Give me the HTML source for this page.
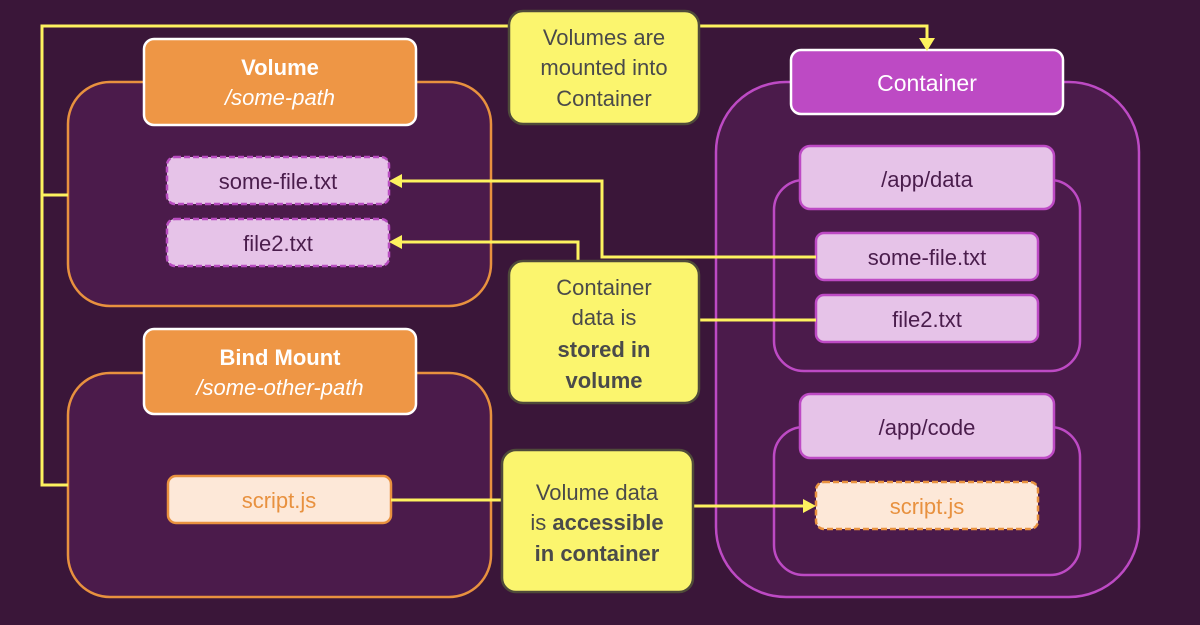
<!DOCTYPE html>
<html><head><meta charset="utf-8"><style>
html,body{margin:0;padding:0;background:#3a1639;}
svg text{font-family:"Liberation Sans",sans-serif;}
</style></head><body>
<svg width="1200" height="620" viewBox="0 0 1200 620" xmlns="http://www.w3.org/2000/svg">
<rect width="1200" height="620" fill="#3a1639"/>
<!-- Volume -->
<rect x="68" y="82" width="423" height="224" rx="42" fill="#4b1b4b" stroke="#e8913f" stroke-width="2.5"/>
<rect x="144" y="39" width="272" height="86" rx="10" fill="#ee9645" stroke="#fff" stroke-width="2.5"/>
<text x="280" y="75" fill="#fff" font-size="22" font-weight="bold" text-anchor="middle">Volume</text>
<text x="280" y="105" fill="#fff" font-size="22" font-style="italic" text-anchor="middle">/some-path</text>
<rect x="167" y="157" width="222" height="47" rx="8" fill="#e6c3e8" stroke="#b84cc0" stroke-width="2.5" stroke-dasharray="6,3"/>
<text x="278" y="189" fill="#4a1d4c" font-size="22" text-anchor="middle">some-file.txt</text>
<rect x="167" y="219" width="222" height="47" rx="8" fill="#e6c3e8" stroke="#b84cc0" stroke-width="2.5" stroke-dasharray="6,3"/>
<text x="278" y="251" fill="#4a1d4c" font-size="22" text-anchor="middle">file2.txt</text>
<!-- Bind mount -->
<rect x="68" y="373" width="423" height="224" rx="42" fill="#4b1b4b" stroke="#e8913f" stroke-width="2.5"/>
<rect x="144" y="329" width="272" height="85" rx="10" fill="#ee9645" stroke="#fff" stroke-width="2.5"/>
<text x="280" y="365" fill="#fff" font-size="22" font-weight="bold" text-anchor="middle">Bind Mount</text>
<text x="280" y="395" fill="#fff" font-size="22" font-style="italic" text-anchor="middle">/some-other-path</text>
<rect x="168" y="476" width="223" height="47" rx="8" fill="#fde8d8" stroke="#e8913f" stroke-width="2.5"/>
<text x="279" y="508" fill="#e8913f" font-size="22" text-anchor="middle">script.js</text>
<!-- Container -->
<rect x="716" y="82" width="423" height="515" rx="70" fill="#4b1b4b" stroke="#bd4ac4" stroke-width="2.5"/>
<rect x="791" y="50" width="272" height="64" rx="10" fill="#bd4ac4" stroke="#fff" stroke-width="2.5"/>
<text x="927" y="91" fill="#fff" font-size="23" text-anchor="middle">Container</text>
<rect x="774" y="180" width="306" height="191" rx="30" fill="#4b1b4b" stroke="#bd4ac4" stroke-width="2.5"/>
<rect x="800" y="146" width="254" height="63" rx="10" fill="#e6c3e8" stroke="#bd4ac4" stroke-width="2.5"/>
<text x="927" y="187" fill="#4a1d4c" font-size="22" text-anchor="middle">/app/data</text>
<rect x="816" y="233" width="222" height="47" rx="8" fill="#e6c3e8" stroke="#bd4ac4" stroke-width="2.5"/>
<text x="927" y="265" fill="#4a1d4c" font-size="22" text-anchor="middle">some-file.txt</text>
<rect x="816" y="295" width="222" height="47" rx="8" fill="#e6c3e8" stroke="#bd4ac4" stroke-width="2.5"/>
<text x="927" y="327" fill="#4a1d4c" font-size="22" text-anchor="middle">file2.txt</text>
<rect x="774" y="427" width="306" height="148" rx="30" fill="#4b1b4b" stroke="#bd4ac4" stroke-width="2.5"/>
<rect x="800" y="394" width="254" height="64" rx="10" fill="#e6c3e8" stroke="#bd4ac4" stroke-width="2.5"/>
<text x="927" y="435" fill="#4a1d4c" font-size="22" text-anchor="middle">/app/code</text>
<rect x="816" y="482" width="222" height="47" rx="8" fill="#fde8d8" stroke="#e8913f" stroke-width="2.5" stroke-dasharray="6,3"/>
<text x="927" y="514" fill="#e8913f" font-size="22" text-anchor="middle">script.js</text>
<!-- connectors -->
<g stroke="#fdf25f" stroke-width="3" fill="none">
<polyline points="68,195 42,195"/>
<polyline points="68,485 42,485 42,26 927,26 927,42"/>
<polyline points="816,257 602,257 602,181 400,181"/>
<polyline points="578,261 578,242 400,242"/>
<polyline points="699,320 816,320"/>
<polyline points="391,500 502,500"/>
<polyline points="693,506 806,506"/>
</g>
<g fill="#fdf25f">
<polygon points="919,38 935,38 927,51"/>
<polygon points="389,181 402,174 402,188"/>
<polygon points="389,242 402,235 402,249"/>
<polygon points="816,506 803,499 803,513"/>
</g>
<!-- Callouts -->
<rect x="509" y="11" width="190" height="113" rx="14" fill="#fbf56e" stroke="#4f4a3a" stroke-width="2.5"/>
<g fill="#4a4a4a" font-size="22" text-anchor="middle">
<text x="604" y="45">Volumes are</text>
<text x="604" y="75">mounted into</text>
<text x="604" y="106">Container</text>
</g>
<rect x="509" y="261" width="190" height="142" rx="14" fill="#fbf56e" stroke="#4f4a3a" stroke-width="2.5"/>
<g fill="#4a4a4a" font-size="22" text-anchor="middle">
<text x="604" y="295">Container</text>
<text x="604" y="325">data is</text>
<text x="604" y="357" font-weight="bold">stored in</text>
<text x="604" y="388" font-weight="bold">volume</text>
</g>
<rect x="502" y="450" width="191" height="142" rx="14" fill="#fbf56e" stroke="#4f4a3a" stroke-width="2.5"/>
<g fill="#4a4a4a" font-size="22" text-anchor="middle">
<text x="597" y="500">Volume data</text>
<text x="597" y="530">is <tspan font-weight="bold">accessible</tspan></text>
<text x="597" y="561" font-weight="bold">in container</text>
</g>
</svg>
</body></html>
